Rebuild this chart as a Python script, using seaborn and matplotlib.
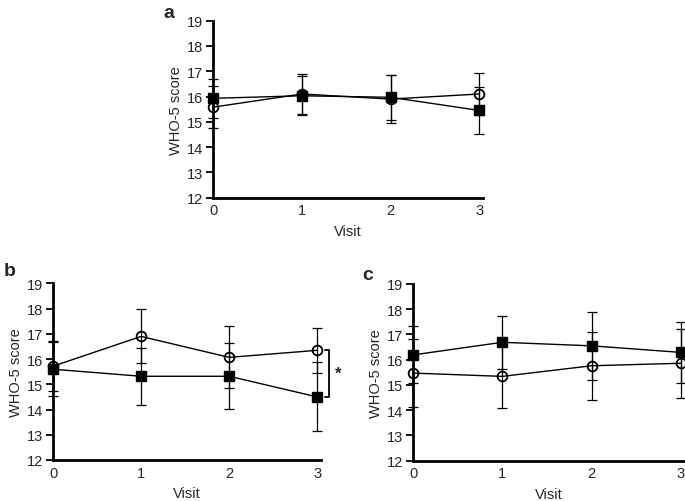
import numpy as np
import pandas as pd
import seaborn as sns
import matplotlib.pyplot as plt

sns.set_style('ticks')
plt.rcParams['font.family'] = ['Liberation Sans', 'DejaVu Sans']

visits = [0, 1, 2, 3]

# panel a
a_circle = [15.58, 16.10, 15.90, 16.10]
a_circle_err = [0.82, 0.80, 0.96, 0.81]
a_square = [15.93, 16.03, 15.97, 15.45]
a_square_err = [0.78, 0.77, 0.90, 0.92]

# panel b
b_circle = [15.72, 16.90, 16.07, 16.35]
b_circle_err = [0.98, 1.07, 1.23, 0.90]
b_square = [15.60, 15.32, 15.32, 14.50]
b_square_err = [1.06, 1.14, 1.30, 1.37]

# panel c
c_circle = [15.47, 15.34, 15.76, 15.86]
c_circle_err = [1.35, 1.25, 1.35, 1.37]
c_square = [16.19, 16.69, 16.55, 16.29]
c_square_err = [1.13, 1.05, 1.35, 1.21]

panels = {
    'a': (a_circle, a_circle_err, a_square, a_square_err),
    'b': (b_circle, b_circle_err, b_square, b_square_err),
    'c': (c_circle, c_circle_err, c_square, c_square_err),
}

fig = plt.figure(figsize=(6.85, 5.02), dpi=100)
boxes = {
    'a': [0.311, 0.604, 0.394, 0.353],
    'b': [0.0774, 0.0817, 0.391, 0.3516],
    'c': [0.603, 0.0803, 0.396, 0.352],
}
# panel letter centres, figure pixels from top-left
letter_px = {'a': (169, 14), 'b': (10, 272), 'c': (368, 276)}

fs = 10.5
for key, (circ, circ_err, sq, sq_err) in panels.items():
    ax = fig.add_axes(boxes[key])
    df = pd.DataFrame({'Visit': visits * 2,
                       'score': circ + sq,
                       'grp': ['circle'] * 4 + ['square'] * 4})

    ax.errorbar(visits, circ, yerr=circ_err, fmt='none', ecolor='black',
                elinewidth=0.9, capsize=3.5, capthick=0.9, zorder=2, clip_on=False)
    ax.errorbar(visits, sq, yerr=sq_err, fmt='none', ecolor='black',
                elinewidth=0.9, capsize=3.5, capthick=0.9, zorder=2, clip_on=False)

    sns.lineplot(data=df[df.grp == 'circle'], x='Visit', y='score', ax=ax,
                 color='black', lw=1, marker='o', markersize=7,
                 markerfacecolor='none', markeredgecolor='black',
                 markeredgewidth=1.3, errorbar=None, zorder=3, clip_on=False)
    sns.lineplot(data=df[df.grp == 'square'], x='Visit', y='score', ax=ax,
                 color='black', lw=1, marker='s', markersize=6.5,
                 markerfacecolor='black', markeredgecolor='black',
                 markeredgewidth=1, errorbar=None, zorder=4, clip_on=False)

    ax.set_xlim(0, 3.04)
    ax.set_ylim(12, 19)
    ax.set_xticks(visits)
    ax.set_yticks(range(12, 20))
    ax.set_xlabel('Visit', fontsize=fs, labelpad=5)
    ax.set_ylabel('WHO-5 score', fontsize=fs, labelpad=3)
    ax.tick_params(axis='y', length=5, width=1.3, labelsize=fs, pad=2, color='black')
    ax.tick_params(axis='x', length=0, labelsize=fs, pad=4)
    sns.despine(ax=ax)
    for s in ['left', 'bottom']:
        ax.spines[s].set_linewidth(2)
        ax.spines[s].set_color('black')
    lx, ly = letter_px[key]
    fig.text(lx / 685, 1 - ly / 502, key, fontsize=14, fontweight='bold',
             ha='center', va='center')

    if key == 'b':
        top, bot = circ[3], sq[3]
        ax.plot([3.09, 3.135, 3.135, 3.09], [top, top, bot, bot],
                color='black', lw=1.3, clip_on=False)
        ax.text(3.2, (top + bot) / 2, '*', fontsize=12, fontweight='bold',
                ha='left', va='center')

fig.savefig('out.png', dpi=100)
